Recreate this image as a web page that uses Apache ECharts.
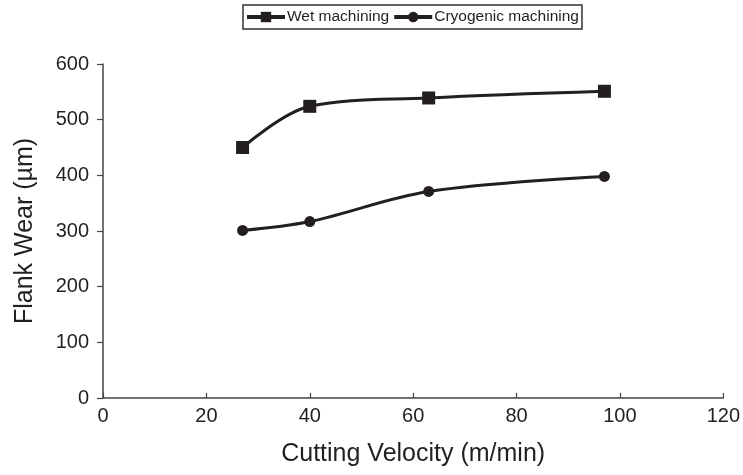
<!DOCTYPE html>
<html>
<head>
<meta charset="utf-8">
<script src="https://cdn.jsdelivr.net/npm/echarts@6/dist/echarts.min.js"></script>
<style>html,body{margin:0;padding:0;background:#fff;}#c{width:743px;height:475px;}</style>
</head>
<body>
<div id="c"></div>
<script>
const velocity = [27, 40, 63, 97];
const wetWear = [450, 524, 539, 551];
const cryoWear = [301, 317, 371, 398];
const seriesNames = ['Wet machining', 'Cryogenic machining'];
const xTicks = [0, 20, 40, 60, 80, 100, 120];
const yTicks = [0, 100, 200, 300, 400, 500, 600];

const ink = '#231f20';
const chart = echarts.init(document.getElementById('c'));
const font = 'Liberation Sans, Arial, sans-serif';
chart.setOption({
  animation: false,
  backgroundColor: '#fff',
  grid: {left: 103, right: 19, top: 64, bottom: 77},
  legend: {
    data: seriesNames,
    left: 243, top: 5,
    padding: [4, 3, 4, 2],
    borderColor: '#333', borderWidth: 1.5,
    itemGap: 3, itemWidth: 38, itemHeight: 13,
    lineStyle: {width: 4, color: ink},
    itemStyle: {color: ink},
    textStyle: {fontFamily: font, fontSize: 15.5, color: ink, padding: [0, 0, 0, -3]}
  },
  xAxis: {
    type: 'value', min: 0, max: 120, interval: 20,
    name: 'Cutting Velocity (m/min)', nameLocation: 'middle', nameGap: 44,
    nameTextStyle: {fontFamily: font, fontSize: 25, color: ink},
    axisLine: {show: true, lineStyle: {color: '#444', width: 1.5}},
    axisTick: {show: true, inside: true, length: 5, lineStyle: {color: '#444', width: 1.2}},
    axisLabel: {fontFamily: font, fontSize: 20, color: ink, margin: 8, formatter: v => xTicks.includes(v) ? String(v) : ''},
    splitLine: {show: false}
  },
  yAxis: {
    type: 'value', min: 0, max: 600, interval: 100,
    name: 'Flank Wear (µm)', nameLocation: 'middle', nameGap: 65,
    nameTextStyle: {fontFamily: font, fontSize: 25, color: ink},
    axisLine: {show: true, lineStyle: {color: '#444', width: 1.5}},
    axisTick: {show: true, inside: false, length: 6, lineStyle: {color: '#444', width: 1.2}},
    axisLabel: {fontFamily: font, fontSize: 20, color: ink, margin: 14, formatter: v => yTicks.includes(v) ? String(v) : ''},
    splitLine: {show: false}
  },
  series: [
    {
      name: seriesNames[0], type: 'line', smooth: 0.35,
      data: velocity.map((v, i) => [v, wetWear[i]]),
      symbol: 'rect', symbolSize: 13,
      lineStyle: {color: ink, width: 3},
      itemStyle: {color: ink}
    },
    {
      name: seriesNames[1], type: 'line', smooth: 0.35,
      data: velocity.map((v, i) => [v, cryoWear[i]]),
      symbol: 'circle', symbolSize: 11,
      lineStyle: {color: ink, width: 3},
      itemStyle: {color: ink}
    }
  ]
});
</script>
</body>
</html>
